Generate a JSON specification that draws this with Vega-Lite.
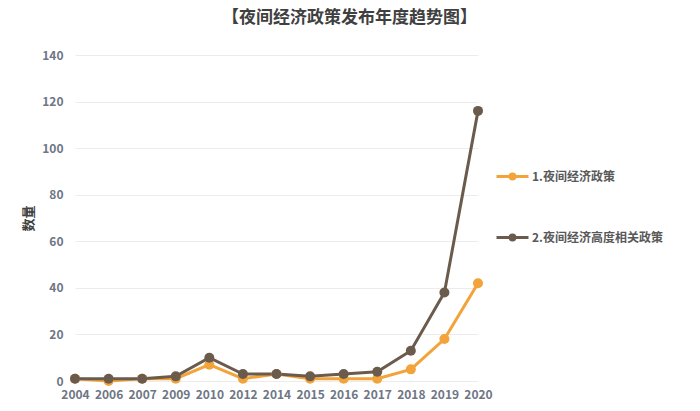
{
  "$schema": "https://vega.github.io/schema/vega-lite/v6.json",
  "autosize": {"type": "none"},
  "width": 403,
  "height": 326,
  "padding": {"left": 75, "top": 55, "right": 222, "bottom": 30},
  "background": "white",
  "title": {
    "text": "【夜间经济政策发布年度趋势图】",
    "font": "Noto Sans CJK SC",
    "fontSize": 17,
    "fontWeight": "bold",
    "color": "#404040",
    "anchor": "middle",
    "dx": 73,
    "offset": 22
  },
  "config": {
    "view": {"stroke": null},
    "font": "Noto Sans CJK SC"
  },
  "data": {
    "values": [
      {"year": "2004", "series": "1.夜间经济政策", "value": 1},
      {"year": "2006", "series": "1.夜间经济政策", "value": 0},
      {"year": "2007", "series": "1.夜间经济政策", "value": 1},
      {"year": "2009", "series": "1.夜间经济政策", "value": 1},
      {"year": "2010", "series": "1.夜间经济政策", "value": 7},
      {"year": "2012", "series": "1.夜间经济政策", "value": 1},
      {"year": "2014", "series": "1.夜间经济政策", "value": 3},
      {"year": "2015", "series": "1.夜间经济政策", "value": 1},
      {"year": "2016", "series": "1.夜间经济政策", "value": 1},
      {"year": "2017", "series": "1.夜间经济政策", "value": 1},
      {"year": "2018", "series": "1.夜间经济政策", "value": 5},
      {"year": "2019", "series": "1.夜间经济政策", "value": 18},
      {"year": "2020", "series": "1.夜间经济政策", "value": 42},
      {"year": "2004", "series": "2.夜间经济高度相关政策", "value": 1},
      {"year": "2006", "series": "2.夜间经济高度相关政策", "value": 1},
      {"year": "2007", "series": "2.夜间经济高度相关政策", "value": 1},
      {"year": "2009", "series": "2.夜间经济高度相关政策", "value": 2},
      {"year": "2010", "series": "2.夜间经济高度相关政策", "value": 10},
      {"year": "2012", "series": "2.夜间经济高度相关政策", "value": 3},
      {"year": "2014", "series": "2.夜间经济高度相关政策", "value": 3},
      {"year": "2015", "series": "2.夜间经济高度相关政策", "value": 2},
      {"year": "2016", "series": "2.夜间经济高度相关政策", "value": 3},
      {"year": "2017", "series": "2.夜间经济高度相关政策", "value": 4},
      {"year": "2018", "series": "2.夜间经济高度相关政策", "value": 13},
      {"year": "2019", "series": "2.夜间经济高度相关政策", "value": 38},
      {"year": "2020", "series": "2.夜间经济高度相关政策", "value": 116}
    ]
  },
  "mark": {
    "type": "line",
    "strokeWidth": 3,
    "point": {"size": 100, "filled": true, "opacity": 1}
  },
  "encoding": {
    "x": {
      "field": "year",
      "type": "ordinal",
      "scale": {"type": "point", "padding": 0},
      "axis": {
        "title": null,
        "labelAngle": 0,
        "domain": false,
        "ticks": false,
        "grid": false,
        "labelFont": "Noto Sans CJK SC",
        "labelFontSize": 12,
        "labelFontWeight": "bold",
        "labelColor": "#6e7685",
        "labelPadding": 8
      }
    },
    "y": {
      "field": "value",
      "type": "quantitative",
      "scale": {"domain": [0, 140], "nice": false},
      "axis": {
        "values": [0, 20, 40, 60, 80, 100, 120, 140],
        "title": "数量",
        "titleFont": "Noto Sans CJK SC",
        "titleFontSize": 13,
        "titleFontWeight": "bold",
        "titleColor": "#404040",
        "titlePadding": 6,
        "domain": false,
        "ticks": false,
        "grid": true,
        "gridColor": "#ececec",
        "gridWidth": 1,
        "labelFont": "Noto Sans CJK SC",
        "labelFontSize": 12,
        "labelFontWeight": "bold",
        "labelColor": "#6e7685",
        "labelPadding": 12
      }
    },
    "color": {
      "field": "series",
      "type": "nominal",
      "scale": {
        "domain": ["1.夜间经济政策", "2.夜间经济高度相关政策"],
        "range": ["#F2A33A", "#6B5B4D"]
      },
      "legend": {
        "title": null,
        "orient": "none",
        "legendX": 420,
        "legendY": 104,
        "symbolType": "M-1,0L1,0M-0.15,0A0.15,0.15,0,1,1,0.15,0A0.15,0.15,0,1,1,-0.15,0Z",
        "symbolSize": 1024,
        "symbolStrokeWidth": 3,
        "rowPadding": 35,
        "labelFont": "Noto Sans CJK SC",
        "labelFontSize": 12,
        "labelFontWeight": "bold",
        "labelColor": "#595959",
        "labelOffset": 2
      }
    }
  }
}
